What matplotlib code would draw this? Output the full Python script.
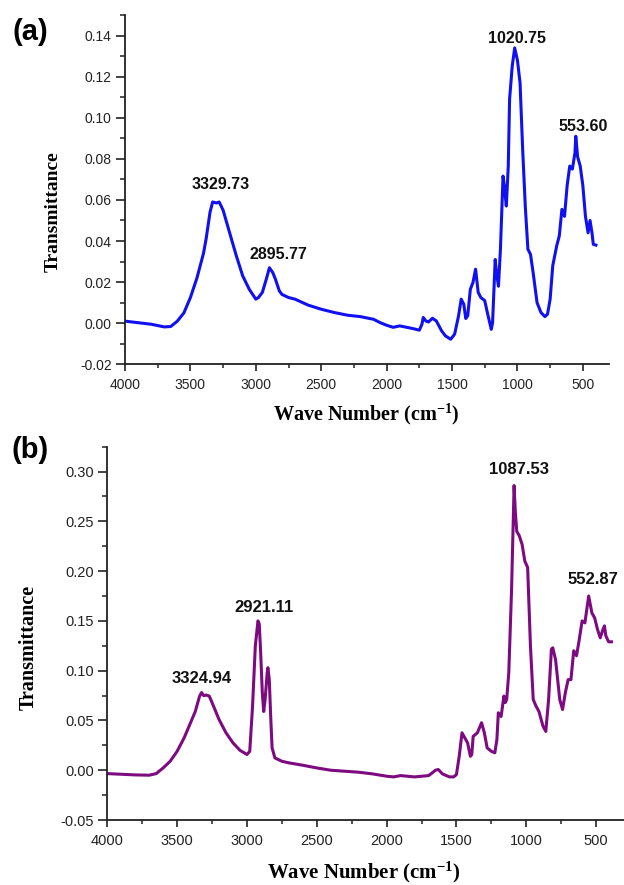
import matplotlib
matplotlib.use("Agg")
import matplotlib.pyplot as plt
import matplotlib.ticker as mticker

# FTIR spectra, wave number (cm-1) vs transmittance
wn_a = [4000, 3800, 3700, 3650, 3600, 3550, 3500, 3450, 3400, 3380, 3350, 3330,
        3300, 3280, 3250, 3200, 3150, 3100, 3050, 3000, 2980, 2950, 2920, 2896,
        2870, 2850, 2820, 2800, 2750, 2700, 2600, 2500, 2400, 2300, 2200, 2100,
        2050, 2000, 1950, 1900, 1800, 1750, 1730, 1720, 1700, 1680, 1650, 1620,
        1580, 1550, 1510, 1480, 1450, 1430, 1410, 1395, 1380, 1360, 1340, 1320,
        1300, 1280, 1250, 1230, 1200, 1190, 1170, 1160, 1145, 1130, 1110, 1100,
        1085, 1070, 1060, 1040, 1021, 1000, 980, 960, 940, 920, 900, 880, 850,
        820, 790, 770, 750, 730, 700, 680, 660, 640, 620, 600, 580, 560, 554,
        540, 520, 500, 480, 460, 445, 430, 420, 400]
tr_a = [0.001, -0.0005, -0.0018, -0.0016, 0.001, 0.005, 0.0125, 0.022, 0.034,
        0.041, 0.054, 0.059, 0.0585, 0.059, 0.055, 0.044, 0.033, 0.023, 0.0165,
        0.0117, 0.0125, 0.015, 0.0214, 0.027, 0.0246, 0.0214, 0.0157, 0.014,
        0.0125, 0.0117, 0.0088, 0.0068, 0.0052, 0.0039, 0.0032, 0.0019, 0.0003,
        -0.001, -0.002, -0.0013, -0.0026, -0.0034, -0.0005, 0.0028, 0.0011,
        0.0006, 0.0024, 0.0011, -0.0037, -0.0062, -0.0078, -0.0053, 0.0036,
        0.0117, 0.0092, 0.0023, 0.0036, 0.0165, 0.0198, 0.0263, 0.015, 0.0125,
        0.011, 0.0052, -0.003, 0.0003, 0.031, 0.0246, 0.018, 0.036, 0.0716,
        0.0668, 0.057, 0.0765, 0.109, 0.125, 0.134, 0.128, 0.117, 0.0846, 0.057,
        0.036, 0.0335, 0.0246, 0.010, 0.0052, 0.0032, 0.0044, 0.0117, 0.028,
        0.0376, 0.0425, 0.0554, 0.052, 0.067, 0.0765, 0.075, 0.083, 0.091,
        0.081, 0.0765, 0.067, 0.052, 0.044, 0.050, 0.044, 0.0384, 0.038]

wn_b = [4000, 3800, 3700, 3650, 3600, 3550, 3500, 3450, 3400, 3370, 3340, 3325,
        3310, 3290, 3270, 3250, 3200, 3150, 3100, 3050, 3000, 2980, 2960, 2940,
        2921, 2912, 2903, 2890, 2880, 2870, 2855, 2850, 2840, 2830, 2820, 2800,
        2750, 2700, 2600, 2500, 2400, 2300, 2200, 2100, 2000, 1950, 1900, 1800,
        1700, 1680, 1650, 1630, 1600, 1550, 1520, 1500, 1480, 1460, 1440, 1420,
        1400, 1390, 1380, 1350, 1320, 1300, 1280, 1250, 1225, 1210, 1200, 1180,
        1160, 1150, 1140, 1125, 1105, 1087, 1078, 1068, 1050, 1030, 1010, 990,
        970, 950, 930, 910, 880, 860, 840, 820, 810, 790, 760, 740, 720, 700,
        680, 660, 640, 620, 600, 580, 553, 530, 510, 490, 470, 450, 440, 430,
        410, 390]
tr_b = [-0.0034, -0.0047, -0.005, -0.0034, 0.0023, 0.009, 0.019, 0.0325, 0.049,
        0.059, 0.074, 0.078, 0.075, 0.0755, 0.0745, 0.068, 0.051, 0.0376,
        0.0275, 0.020, 0.0158, 0.019, 0.064, 0.125, 0.150, 0.147, 0.122, 0.078,
        0.059, 0.071, 0.098, 0.103, 0.091, 0.054, 0.0225, 0.0124, 0.009, 0.0074,
        0.005, 0.0023, 0.0, -0.001, -0.002, -0.0037, -0.006, -0.0067, -0.0054,
        -0.0067, -0.0054, -0.0034, 0.0, 0.0007, -0.0037, -0.0067, -0.0067,
        -0.0044, 0.014, 0.0376, 0.0325, 0.0275, 0.014, 0.0158, 0.034, 0.0376,
        0.0477, 0.0376, 0.0225, 0.019, 0.0175, 0.031, 0.0577, 0.054, 0.0745,
        0.068, 0.071, 0.098, 0.182, 0.286, 0.259, 0.240, 0.2356, 0.227, 0.210,
        0.2037, 0.125, 0.071, 0.0644, 0.0594, 0.0443, 0.039, 0.071, 0.1215,
        0.123, 0.111, 0.071, 0.061, 0.078, 0.091, 0.091, 0.120, 0.115, 0.1315,
        0.150, 0.148, 0.175, 0.158, 0.153, 0.1416, 0.133, 0.1416, 0.145, 0.135,
        0.129, 0.129]

# peak annotations: text, x, y of the label centre
peaks_a = ["3329.73", "2895.77", "1020.75", "553.60"]
peaks_a_x = [3267, 2824, 1000, 501]
peaks_a_y = [0.0676, 0.0335, 0.1385, 0.0956]

peaks_b = ["3324.94", "2921.11", "1087.53", "552.87"]
peaks_b_x = [3327, 2878, 1051, 525]
peaks_b_y = [0.092, 0.163, 0.302, 0.1917]

plt.rcParams["axes.unicode_minus"] = False
plt.rcParams["mathtext.fontset"] = "custom"
plt.rcParams["mathtext.rm"] = "Liberation Serif:bold"
plt.rcParams["mathtext.bf"] = "Liberation Serif:bold"
plt.rcParams["mathtext.it"] = "Liberation Serif:bold"

SANS = "Liberation Sans"
SERIF = "Liberation Serif"

fig = plt.figure(figsize=(6.24, 8.85), dpi=100, facecolor="white")
ax_a = fig.add_axes([125 / 624, 1 - 364.3 / 885, 484 / 624, 349.3 / 885])
ax_b = fig.add_axes([107.3 / 624, 1 - 820 / 885, 516.7 / 624, 373.3 / 885])


def style_axes(ax, ylim, ymajor, yminor, tick_fs):
    ax.set_xlim(4000, 300)
    ax.set_ylim(*ylim)
    ax.spines["top"].set_visible(False)
    ax.spines["right"].set_visible(False)
    for side in ("left", "bottom"):
        ax.spines[side].set_linewidth(1.3)
        ax.spines[side].set_color("#222222")
    ax.xaxis.set_major_locator(mticker.FixedLocator([4000, 3500, 3000, 2500, 2000, 1500, 1000, 500]))
    ax.xaxis.set_minor_locator(mticker.FixedLocator([3750, 3250, 2750, 2250, 1750, 1250, 750]))
    ax.yaxis.set_major_locator(mticker.MultipleLocator(ymajor))
    ax.yaxis.set_minor_locator(mticker.MultipleLocator(yminor))
    ax.yaxis.set_major_formatter(mticker.FormatStrFormatter("%.2f"))
    ax.tick_params(axis="y", which="major", direction="out", length=6.5, width=1.2,
                   pad=3, labelsize=tick_fs, color="#222222")
    ax.tick_params(axis="y", which="minor", direction="out", length=3.5, width=1.1,
                   color="#222222")
    ax.tick_params(axis="x", which="major", direction="out", length=5, width=1.2,
                   pad=5, labelsize=tick_fs, color="#222222")
    ax.tick_params(axis="x", which="minor", direction="out", length=3, width=1.1,
                   color="#222222")
    for lab in ax.get_xticklabels() + ax.get_yticklabels():
        lab.set_fontfamily(SANS)
        lab.set_color("#222222")


# ── (a) ─────────────────────────────────────────────────────────────────────
ax_a.plot(wn_a, tr_a, color="#1010F0", linewidth=2.2, solid_joinstyle="round")
style_axes(ax_a, (-0.02, 0.15), 0.02, 0.01, 10)
for t, x, y in zip(peaks_a, peaks_a_x, peaks_a_y):
    ax_a.text(x, y, t, ha="center", va="center", fontsize=11.5, fontweight="bold",
              family=SANS, color="#111111")
ax_a.text(-0.149, 0.436, "Transmittance", transform=ax_a.transAxes, rotation=90,
          ha="center", va="center", fontsize=14, fontweight="bold", family=SERIF)
ax_a.text(0.499, -0.142, r"Wave Number (cm$^{-1}$)", transform=ax_a.transAxes,
          ha="center", va="center", fontsize=14.5, fontweight="bold", family=SERIF)
fig.text(30.5 / 624, 1 - 31.5 / 885, "(a)", ha="center", va="center",
         fontsize=21, fontweight="bold", family=SANS)

# ── (b) ─────────────────────────────────────────────────────────────────────
ax_b.plot(wn_b, tr_b, color="#7D0A80", linewidth=2.2, solid_joinstyle="round")
style_axes(ax_b, (-0.05, 0.325), 0.05, 0.025, 10.5)
for t, x, y in zip(peaks_b, peaks_b_x, peaks_b_y):
    ax_b.text(x, y, t, ha="center", va="center", fontsize=12, fontweight="bold",
              family=SANS, color="#111111")
ax_b.text(-0.1515, 0.462, "Transmittance", transform=ax_b.transAxes, rotation=90,
          ha="center", va="center", fontsize=14.5, fontweight="bold", family=SERIF)
ax_b.text(0.497, -0.141, r"Wave Number (cm$^{-1}$)", transform=ax_b.transAxes,
          ha="center", va="center", fontsize=15, fontweight="bold", family=SERIF)
fig.text(30 / 624, 1 - 450 / 885, "(b)", ha="center", va="center",
         fontsize=21, fontweight="bold", family=SANS)

fig.savefig("out.png", dpi=100, facecolor="white")
